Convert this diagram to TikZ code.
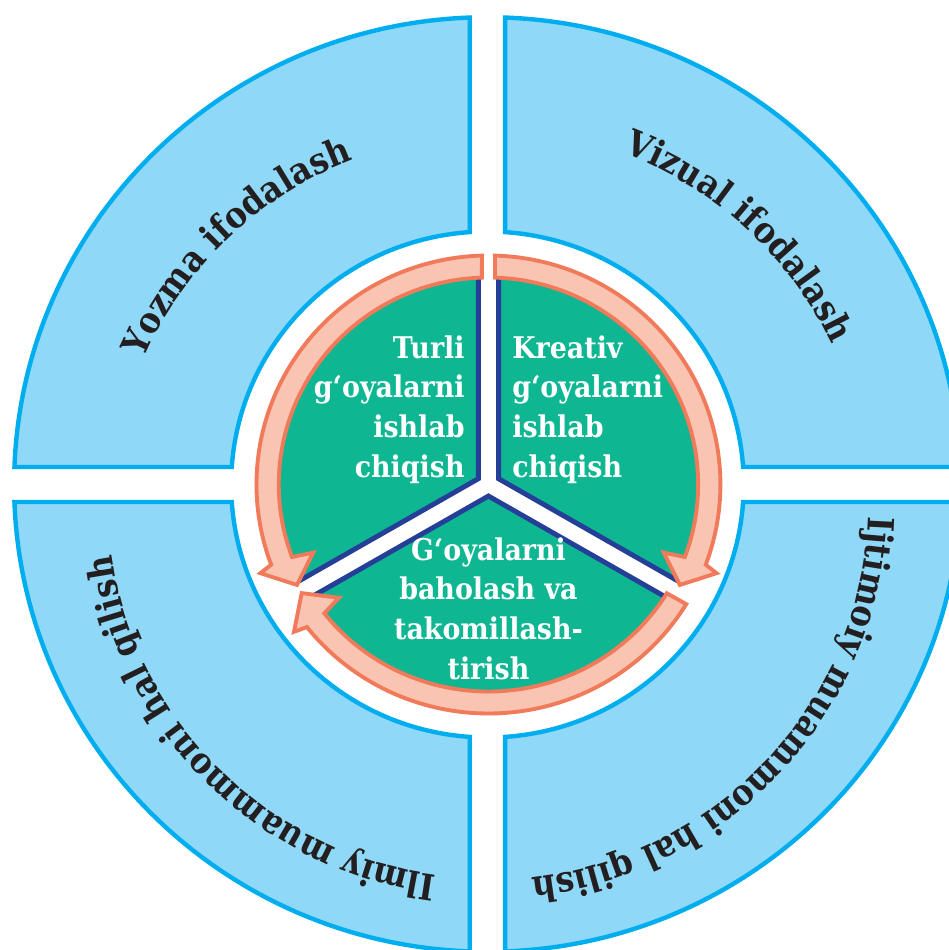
\documentclass[tikz,border=0pt]{standalone}
\usepackage{fontspec}
\setmainfont{DejaVu Serif}[FakeStretch=0.9]
\usetikzlibrary{decorations.text}

\definecolor{bandfill}{HTML}{8FD8F7}
\definecolor{bandline}{HTML}{00AEEF}
\definecolor{sectorgreen}{HTML}{0EB692}
\definecolor{sectorline}{HTML}{253F99}
\definecolor{arrowfill}{HTML}{F9C4B1}
\definecolor{arrowline}{HTML}{F07A5A}
\definecolor{labeltext}{HTML}{231F20}

\newcommand{\bandfont}{\fontsize{20.5}{24}\selectfont\bfseries}
\newcommand{\sectorfont}{\fontsize{17}{22.6}\selectfont\bfseries}

\tikzset{
  band/.style={fill=bandfill, draw=bandline, line width=2.5pt},
  sector/.style={fill=sectorgreen},
  divider/.style={draw=sectorline, line width=2.8pt},
  cycle arrow/.style={fill=arrowfill, draw=arrowline, line width=2.2pt, line join=miter},
  sector text/.style={text=white, font=\sectorfont, inner sep=0pt},
  band text/.style={decorate, decoration={text along path, text align=center,
      text color=labeltext, text={|\bandfont|#1}}}
}

\begin{document}
\begin{tikzpicture}[x=0.02026cm, y=0.02cm]
  \useasboundingbox (-481.2,-465.5) rectangle (455.6,484.5);
  \clip (-481.2,-465.5) rectangle (455.6,484.5);

  % four outer bands
  \foreach \sx/\sy in {1/1, -1/1, -1/-1, 1/-1}
    \draw[band, xscale=\sx, yscale=\sy] (86.03:253) -- (87.85:467.3)
      arc[start angle=87.85, end angle=2.15, radius=467.3] -- (3.97:253)
      arc[start angle=3.97, end angle=86.03, radius=253] -- cycle;

  % band labels
  \path[band text=Yozma ifodalash] (0,-20) ++(178:369) arc[start angle=178, end angle=90, radius=369];
  \path[band text=Vizual ifodalash] (0,-20) ++(91:376) arc[start angle=91, end angle=3, radius=376];
  \path[band text=Ijtimoiy muammoni hal qilish] (0,-20) ++(2.5:376) arc[start angle=2.5, end angle=-87.5, radius=376];
  \path[band text=Ilmiy muammoni hal qilish] (0,-20) ++(269:374) arc[start angle=269, end angle=181, radius=374];

  \begin{scope}[shift={(1,0)}]
    % three green sectors
    \fill[sector] (150:11.55) -- (92.7:212) arc[start angle=92.7, end angle=207.3, radius=212] -- cycle;
    \fill[sector] (30:11.55) -- (87.3:212) arc[start angle=87.3, end angle=-27.3, radius=212] -- cycle;
    \fill[sector] (270:11.55) -- (212.7:212) arc[start angle=212.7, end angle=327.3, radius=212] -- cycle;

    \draw[divider] (92.7:212) -- (150:11.55) -- (207.3:212);
    \draw[divider] (87.3:212) -- (30:11.55) -- (-27.3:212);
    \draw[divider] (212.7:212) -- (270:11.55) -- (327.3:212);

    % curved arrows round the sectors
    \draw[cycle arrow] (91.8:207) -- (91.6:229) arc[start angle=91.6, end angle=200.5, radius=229]
      -- (201.5:242) -- (208:214) -- (201.5:186) -- (200.5:207)
      arc[start angle=200.5, end angle=91.8, radius=207] -- cycle;
    \draw[cycle arrow] (88.2:207) -- (88.4:229) arc[start angle=88.4, end angle=-20.5, radius=229]
      -- (-21.5:242) -- (-28:214) -- (-21.5:186) -- (-20.5:207)
      arc[start angle=-20.5, end angle=88.2, radius=207] -- cycle;
    \draw[cycle arrow] (-31.7:207) -- (-31.5:229) arc[start angle=-31.5, end angle=-141.5, radius=229]
      -- (-142.5:242) -- (-149.5:214) -- (-142.5:186) -- (-141.5:207)
      arc[start angle=-141.5, end angle=-31.7, radius=207] -- cycle;

    \node[sector text, align=right, anchor=north east] (turli) at (-23.2,149.3)
      {Turli\\g‘oyalarni\\ishlab\\chiqish};
    \node[sector text, align=left, anchor=north west] (kreativ) at (23.2,149.3)
      {Kreativ\\g‘oyalarni\\ishlab\\chiqish};
    \node[sector text, align=center, anchor=north] (baholash) at (0,-52.7)
      {G‘oyalarni\\baholash va\\takomillash-\\tirish};
  \end{scope}
\end{tikzpicture}
\end{document}
